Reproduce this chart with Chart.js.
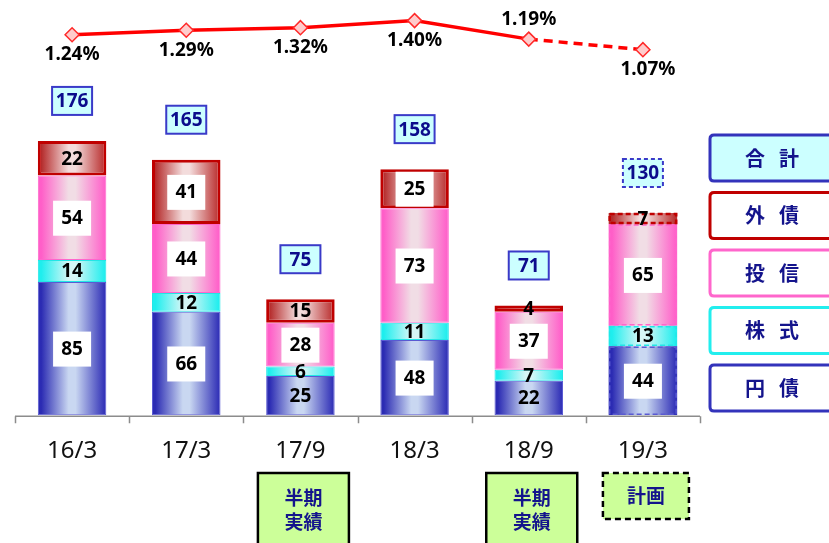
<!DOCTYPE html>
<html lang="ja">
<head>
<meta charset="utf-8">
<script src="https://cdn.jsdelivr.net/npm/chart.js"></script>
<style>
  html, body { margin: 0; padding: 0; background: #ffffff; }
  #chart { display: block; }
</style>
</head>
<body>
<canvas id="chart" width="829" height="543"></canvas>
<script>
const periods = ["16/3", "17/3", "17/9", "18/3", "18/9", "19/3"];
const yenBonds = [85, 66, 25, 48, 22, 44];
const stocks = [14, 12, 6, 11, 7, 13];
const funds = [54, 44, 28, 73, 37, 65];
const foreignBonds = [22, 41, 15, 25, 4, 7];
const totals = [176, 165, 75, 158, 71, 130];
const spreadPct = [1.24, 1.29, 1.32, 1.40, 1.19, 1.07];
const periodNotes = ["", "", "半期\n実績", "", "半期\n実績", "計画"];
const legendLabels = ["合計", "外債", "投信", "株式", "円債"];

const PLAN_INDEX = periods.length - 1;
const BAR_FRACTION = 0.6;
const NUM_FONT = '"Noto Sans", "Liberation Sans", sans-serif';
const JP_FONT = '"Noto Sans CJK JP", "Noto Sans", sans-serif';
const NAVY = "#14148c";

const segmentStyles = [
  { stops: ["#2b2bb3", "#c9d7f1", "#3434b8"], border: "#5a5ad2", width: 1 },
  { stops: ["#1eeeee", "#d6f6f6", "#22eeee"], border: "#22e6e6", width: 1 },
  { stops: ["#ff5ec8", "#f1dde5", "#ff62ca"], border: "#ff66cc", width: 1 },
  { stops: ["#b52b2b", "#f3dcdc", "#bb3333"], border: "#c00000", width: 3 },
];

const legendColors = [
  { border: "#3333bb", fill: "#ccffff" },
  { border: "#c00000", fill: "#ffffff" },
  { border: "#ff66cc", fill: "#ffffff" },
  { border: "#22eeee", fill: "#ffffff" },
  { border: "#3333bb", fill: "#ffffff" },
];

function barGradient(stops) {
  return (ctx) => {
    const chart = ctx.chart;
    const xScale = chart.scales.x;
    if (ctx.type !== "data" || !xScale || !chart.chartArea) return stops[1];
    const cx = xScale.getPixelForValue(ctx.dataIndex);
    const half = (xScale.width / periods.length) * BAR_FRACTION / 2;
    const g = chart.ctx.createLinearGradient(cx - half, 0, cx + half, 0);
    g.addColorStop(0, stops[0]);
    g.addColorStop(0.05, stops[0]);
    g.addColorStop(0.45, stops[1]);
    g.addColorStop(0.55, stops[1]);
    g.addColorStop(0.97, stops[2]);
    g.addColorStop(1, stops[2]);
    return g;
  };
}

function barDataset(label, data, style) {
  return {
    type: "bar",
    label,
    data,
    yAxisID: "y",
    stack: "total",
    backgroundColor: barGradient(style.stops),
    borderColor: style.border,
    borderWidth: (ctx) => (ctx.dataIndex === PLAN_INDEX ? 0 : style.width),
    borderSkipped: false,
    barPercentage: 0.75,
    categoryPercentage: 0.8,
    order: 2,
  };
}

function roundRect(ctx, x, y, w, h, r) {
  ctx.beginPath();
  ctx.moveTo(x + r, y);
  ctx.lineTo(x + w - r, y);
  ctx.quadraticCurveTo(x + w, y, x + w, y + r);
  ctx.lineTo(x + w, y + h - r);
  ctx.quadraticCurveTo(x + w, y + h, x + w - r, y + h);
  ctx.lineTo(x + r, y + h);
  ctx.quadraticCurveTo(x, y + h, x, y + h - r);
  ctx.lineTo(x, y + r);
  ctx.quadraticCurveTo(x, y, x + r, y);
  ctx.closePath();
}

const labelPlugin = {
  id: "labels",
  afterDatasetsDraw(chart) {
    const ctx = chart.ctx;
    ctx.save();

    // dashed outlines for the plan bar
    for (let di = 0; di < 4; di++) {
      const el = chart.getDatasetMeta(di).data[PLAN_INDEX];
      const w = el.width;
      ctx.setLineDash([5, 3]);
      ctx.lineWidth = di === 3 ? 2.5 : 1.5;
      ctx.strokeStyle = segmentStyles[di].border;
      ctx.strokeRect(el.x - w / 2 + 1, el.y + 1, w - 2, el.base - el.y - 2);
    }
    ctx.setLineDash([]);

    // segment values
    ctx.textAlign = "center";
    ctx.textBaseline = "middle";
    ctx.font = `bold 19px ${NUM_FONT}`;
    const series = [yenBonds, stocks, funds, foreignBonds];
    series.forEach((values, di) => {
      const meta = chart.getDatasetMeta(di);
      values.forEach((v, i) => {
        const el = meta.data[i];
        const mid = (el.y + el.base) / 2;
        const boxed = v >= 25 && !(di === 0 && totals[i] < 100);
        if (boxed) {
          ctx.fillStyle = "#ffffff";
          ctx.fillRect(el.x - 19, mid - 17, 38, 35);
        }
        ctx.fillStyle = "#000000";
        ctx.fillText(String(v), el.x, mid + 1);
      });
    });

    // totals
    const topMeta = chart.getDatasetMeta(3);
    totals.forEach((t, i) => {
      const el = topMeta.data[i];
      const cy = el.y - 40;
      ctx.fillStyle = "#ccffff";
      ctx.fillRect(el.x - 20, cy - 14, 40, 28);
      ctx.lineWidth = 2;
      ctx.strokeStyle = "#3a3ac8";
      if (i === PLAN_INDEX) ctx.setLineDash([4, 3]);
      ctx.strokeRect(el.x - 20, cy - 14, 40, 28);
      ctx.setLineDash([]);
      ctx.fillStyle = "#0c0c8c";
      ctx.fillText(String(t), el.x, cy + 1);
    });

    // percentage labels (18/9 sits above its point)
    const lineMeta = chart.getDatasetMeta(4);
    spreadPct.forEach((p, i) => {
      const pt = lineMeta.data[i];
      const dy = i === 4 ? -20 : 20;
      ctx.fillStyle = "#000000";
      ctx.fillText(p.toFixed(2) + "%", pt.x + (i === PLAN_INDEX ? 5 : 0), pt.y + dy);
    });
    ctx.restore();
  },
  afterDraw(chart) {
    const ctx = chart.ctx;
    const area = chart.chartArea;
    const xScale = chart.scales.x;
    const step = (area.right - area.left) / periods.length;
    ctx.save();

    // axis with tick marks between categories
    const ay = area.bottom + 1;
    ctx.strokeStyle = "#8c8c8c";
    ctx.lineWidth = 1.5;
    ctx.beginPath();
    ctx.moveTo(area.left, ay);
    ctx.lineTo(area.right, ay);
    for (let i = 0; i <= periods.length; i++) {
      const x = Math.round(area.left + step * i) + 0.5;
      ctx.moveTo(x, ay);
      ctx.lineTo(x, ay + 7);
    }
    ctx.stroke();

    // legend boxes on the right
    ctx.textAlign = "center";
    ctx.textBaseline = "middle";
    ctx.font = `bold 20px ${JP_FONT}`;
    legendLabels.forEach((label, i) => {
      const top = 135 + i * 57.5;
      roundRect(ctx, 710, top, 140, 46, 4);
      ctx.fillStyle = legendColors[i].fill;
      ctx.fill();
      ctx.lineWidth = 3;
      ctx.strokeStyle = legendColors[i].border;
      ctx.stroke();
      ctx.fillStyle = NAVY;
      ctx.fillText(label[0], 755, top + 23);
      ctx.fillText(label[1], 789, top + 23);
    });

    // notes under the period labels
    ctx.font = `bold 19px ${JP_FONT}`;
    periodNotes.forEach((note, i) => {
      if (!note) return;
      const cx = xScale.getPixelForValue(i) + 3;
      const lines = note.split("\n");
      const plan = i === PLAN_INDEX;
      const w = plan ? 86 : 91;
      const top = 473;
      const h = plan ? 46 : 80;
      ctx.fillStyle = "#ccff99";
      ctx.fillRect(cx - w / 2, top, w, h);
      ctx.lineWidth = 2.5;
      ctx.strokeStyle = "#000000";
      if (plan) ctx.setLineDash([6, 4]);
      ctx.strokeRect(cx - w / 2, top, w, h);
      ctx.setLineDash([]);
      ctx.fillStyle = NAVY;
      lines.forEach((ln, k) => {
        ctx.fillText(ln, cx, (plan ? 496 : 498) + k * 24);
      });
    });
    ctx.restore();
  },
};

new Chart(document.getElementById("chart"), {
  data: {
    labels: periods,
    datasets: [
      barDataset("円債", yenBonds, segmentStyles[0]),
      barDataset("株式", stocks, segmentStyles[1]),
      barDataset("投信", funds, segmentStyles[2]),
      barDataset("外債", foreignBonds, segmentStyles[3]),
      {
        type: "line",
        label: "利回り",
        data: spreadPct,
        yAxisID: "y1",
        borderColor: "#ff0000",
        borderWidth: 3.5,
        pointStyle: "rectRot",
        pointRadius: 7,
        pointBackgroundColor: "#ffcccc",
        pointBorderColor: "#ff2a2a",
        pointBorderWidth: 1.5,
        segment: {
          borderDash: (ctx) => (ctx.p1DataIndex === PLAN_INDEX ? [9, 6] : undefined),
        },
        tension: 0,
        order: 1,
      },
    ],
  },
  options: {
    responsive: false,
    animation: false,
    devicePixelRatio: 1,
    layout: { autoPadding: false, padding: { left: 15, right: 129, top: 3, bottom: 55 } },
    plugins: {
      legend: { display: false },
      tooltip: { enabled: false },
    },
    scales: {
      x: {
        stacked: true,
        grid: { display: false, drawTicks: false },
        border: { display: false },
        ticks: {
          color: "#111111",
          padding: 22,
          font: { family: NUM_FONT, size: 24 },
        },
      },
      y: { stacked: true, display: false, min: 0, max: 263 },
      y1: { display: false, min: -3.08, max: 1.60 },
    },
  },
  plugins: [labelPlugin],
});
</script>
</body>
</html>
